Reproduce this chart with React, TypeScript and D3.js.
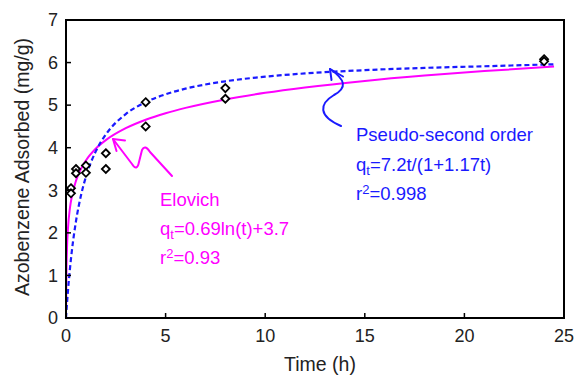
import React from "react";
import * as d3 from "d3";

// Measured points (two replicates per time)
const obsTime = [0.25, 0.25, 0.5, 0.5, 1, 1, 2, 2, 4, 4, 8, 8, 24, 24];
const obsQ = [3.05, 2.93, 3.5, 3.4, 3.58, 3.41, 3.87, 3.5, 5.07, 4.5, 5.4, 5.15, 6.08, 6.03];

// Pseudo-second order fitted curve
const psoTime = [0, 0.05, 0.1, 0.2, 0.3, 0.5, 0.75, 1, 1.5, 2, 3, 4, 5, 6, 8, 10, 12, 15, 18, 21, 24.5];
const psoQ = [0, 0.34, 0.645, 1.167, 1.599, 2.271, 2.876, 3.318, 3.92, 4.311, 4.789, 5.07, 5.255, 5.387, 5.56, 5.669, 5.745, 5.822, 5.875, 5.913, 5.96];

// Elovich fitted curve
const elTime = [0.007, 0.01, 0.02, 0.05, 0.1, 0.2, 0.3, 0.5, 0.75, 1, 1.5, 2, 3, 4, 5, 6, 8, 10, 12, 15, 18, 21, 24.5];
const elQ = [0.276, 0.522, 1.001, 1.633, 2.111, 2.59, 2.869, 3.222, 3.501, 3.7, 3.98, 4.178, 4.458, 4.657, 4.811, 4.936, 5.135, 5.289, 5.415, 5.569, 5.694, 5.801, 5.907];

const xTicks = [0, 5, 10, 15, 20, 25];
const yTicks = [0, 1, 2, 3, 4, 5, 6, 7];

const BLUE = "#1a1aff";
const MAGENTA = "#ff00ff";
const FONT = "'Liberation Sans', Arial, sans-serif";

export default function App() {
  const W = 574, H = 378;
  const L = 66, R = 564, T = 20, B = 318;
  const x = d3.scaleLinear().domain([0, 25]).range([L, R]);
  const y = d3.scaleLinear().domain([0, 7]).range([B, T]);

  const line = d3
    .line<[number, number]>()
    .x((d) => x(d[0]))
    .y((d) => y(d[1]))
    .curve(d3.curveMonotoneX);

  const psoPath = line(psoTime.map((t, i) => [t, psoQ[i]]) as [number, number][]) || "";
  const elPath = line(elTime.map((t, i) => [t, elQ[i]]) as [number, number][]) || "";

  const diamond = (cx: number, cy: number, r: number) =>
    `M${cx},${cy - r}L${cx + r},${cy}L${cx},${cy + r}L${cx - r},${cy}Z`;

  return (
    <svg
      width={W}
      height={H}
      style={{ position: "absolute", left: 0, top: 0, background: "#fff" }}
      fontFamily={FONT}
    >
      <rect x={0} y={0} width={W} height={H} fill="#fff" />
      {/* curves */}
      <path d={elPath} fill="none" stroke={MAGENTA} strokeWidth={2} />
      <path d={psoPath} fill="none" stroke={BLUE} strokeWidth={2.2} strokeDasharray="5,3" />

      {/* observed points */}
      {obsTime.map((t, i) => (
        <path
          key={i}
          d={diamond(x(t), y(obsQ[i]), 4)}
          fill="#fff"
          stroke="#000"
          strokeWidth={1.8}
        />
      ))}

      {/* frame */}
      <rect x={L} y={T} width={R - L} height={B - T} fill="none" stroke="#000" strokeWidth={2} />

      {/* ticks */}
      {xTicks.map((v) => (
        <g key={"x" + v}>
          <line x1={x(v)} x2={x(v)} y1={B} y2={B - 5} stroke="#000" strokeWidth={1.5} />
          <text x={x(v)} y={342} fontSize={18} textAnchor="middle" fill="#222">
            {v}
          </text>
        </g>
      ))}
      {yTicks.map((v) => (
        <g key={"y" + v}>
          <line x1={L} x2={L + 5} y1={y(v)} y2={y(v)} stroke="#000" strokeWidth={1.5} />
          <text x={58} y={y(v)} dy="0.35em" fontSize={18} textAnchor="end" fill="#222">
            {v}
          </text>
        </g>
      ))}

      {/* axis titles */}
      <text x={320} y={371} fontSize={19.5} textAnchor="middle" fill="#222">
        Time (h)
      </text>
      <text
        transform={`translate(29,${(T + B) / 2 - 2}) rotate(-90)`}
        fontSize={19.5}
        textAnchor="middle"
        fill="#222"
      >
        Azobenzene Adsorbed (mg/g)
      </text>

      {/* arrows */}
      <path
        d="M330,69 C346,80 347,88 334,95 C319,104 318,116 341,126"
        fill="none"
        stroke={BLUE}
        strokeWidth={2}
        strokeLinecap="round"
      />
      <path d="M331.5,80 L330,69 L343,76.5" fill="none" stroke={BLUE} strokeWidth={2} strokeLinecap="round" strokeLinejoin="round" />

      <path
        d="M113,139 L132,164 Q137,172 139,162 L142,150 Q145,144 150,152 L172,176"
        fill="none"
        stroke={MAGENTA}
        strokeWidth={2}
        strokeLinecap="round"
        strokeLinejoin="round"
      />
      <path d="M116.5,151 L113,139 L125,140.5" fill="none" stroke={MAGENTA} strokeWidth={2} strokeLinecap="round" strokeLinejoin="round" />

      {/* annotations */}
      <g fill={BLUE} fontSize={18.5}>
        <text x={356} y={141}>Pseudo-second order</text>
        <text x={356} y={171}>
          q<tspan fontSize={13} dy={4}>t</tspan>
          <tspan dy={-4}>=7.2t/(1+1.17t)</tspan>
        </text>
        <text x={356} y={200}>
          r<tspan fontSize={13} dy={-6}>2</tspan>
          <tspan dy={6}>=0.998</tspan>
        </text>
      </g>
      <g fill={MAGENTA} fontSize={18.5}>
        <text x={160} y={206}>Elovich</text>
        <text x={160} y={235}>
          q<tspan fontSize={13} dy={4}>t</tspan>
          <tspan dy={-4}>=0.69ln(t)+3.7</tspan>
        </text>
        <text x={160} y={264}>
          r<tspan fontSize={13} dy={-6}>2</tspan>
          <tspan dy={6}>=0.93</tspan>
        </text>
      </g>
    </svg>
  );
}
